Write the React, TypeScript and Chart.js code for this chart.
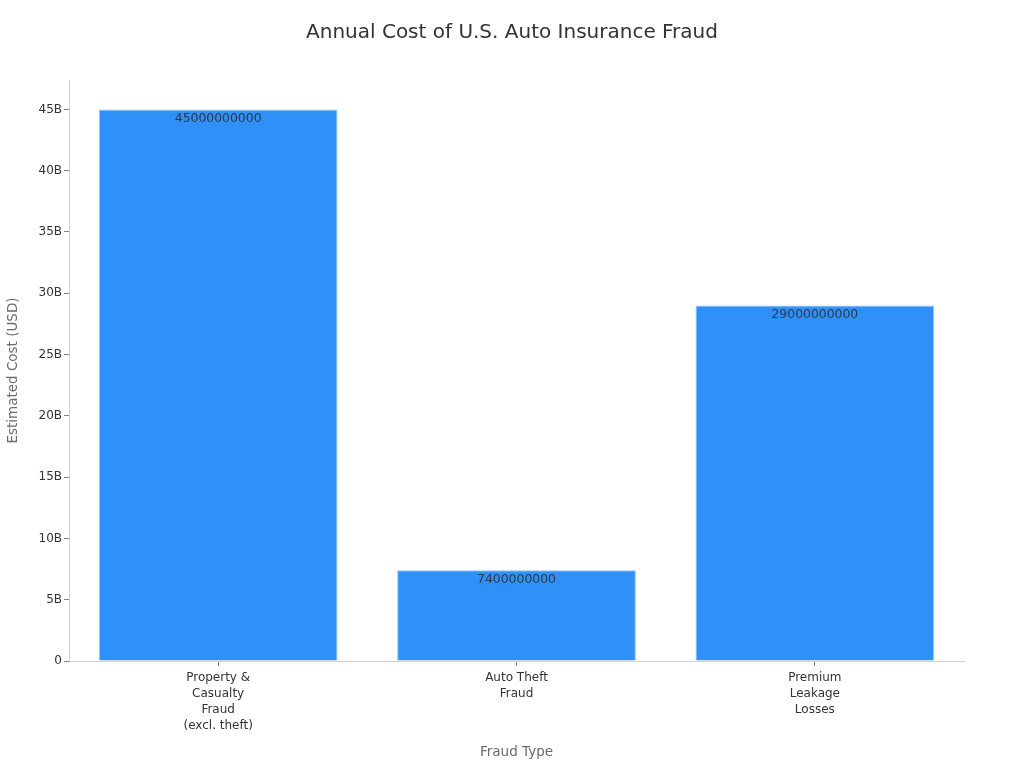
import React, { useEffect, useRef } from "react";
import { Chart, registerables } from "chart.js";

Chart.register(...registerables);

const chartTitle = "Annual Cost of U.S. Auto Insurance Fraud";
const categories: string[][] = [
  ["Property &", "Casualty", "Fraud", "(excl. theft)"],
  ["Auto Theft", "Fraud"],
  ["Premium", "Leakage", "Losses"],
];
const costValues: number[] = [45000000000, 7400000000, 29000000000];
const yTickValues: number[] = [
  0, 5000000000, 10000000000, 15000000000, 20000000000, 25000000000, 30000000000,
  35000000000, 40000000000, 45000000000,
];
const yTickLabels: string[] = ["0", "5B", "10B", "15B", "20B", "25B", "30B", "35B", "40B", "45B"];
const yMax = 47400000000;

const FONT = "'DejaVu Sans', sans-serif";

const valueLabelPlugin = {
  id: "valueLabels",
  afterDatasetsDraw(chart: any) {
    const ctx = chart.ctx;
    const meta = chart.getDatasetMeta(0);
    ctx.save();
    ctx.font = `12.4px ${FONT}`;
    ctx.fillStyle = "rgba(42,52,66,0.95)";
    ctx.textAlign = "center";
    ctx.textBaseline = "middle";
    meta.data.forEach((bar: any, i: number) => {
      const v = chart.data.datasets[0].data[i];
      ctx.fillText(String(v), bar.x, bar.y + 9);
    });
    ctx.restore();
  },
};

const pageTitlePlugin = {
  id: "pageTitle",
  afterDraw(chart: any) {
    const ctx = chart.ctx;
    ctx.save();
    ctx.font = `20px ${FONT}`;
    ctx.fillStyle = "#333333";
    ctx.textAlign = "center";
    ctx.textBaseline = "middle";
    ctx.fillText(chartTitle, chart.width / 2, 33);
    ctx.restore();
  },
};

export default function App() {
  const ref = useRef<HTMLCanvasElement | null>(null);

  useEffect(() => {
    if (!ref.current) return;
    const chart = new Chart(ref.current, {
      type: "bar",
      data: {
        labels: categories as any,
        datasets: [
          {
            data: costValues,
            backgroundColor: "#2F91F7",
            borderColor: "#8CC2FA",
            borderWidth: 1,
            barPercentage: 0.8,
            categoryPercentage: 1.0,
          },
        ],
      },
      options: {
        responsive: false,
        animation: false,
        layout: { padding: { left: 0, right: 60, top: 80, bottom: 0 } },
        plugins: {
          legend: { display: false },
          tooltip: { enabled: false },
          title: { display: false },
        },
        scales: {
          x: {
            grid: {
              display: true,
              drawOnChartArea: false,
              drawTicks: true,
              tickLength: 5,
              offset: false,
              color: "#808080",
            },
            border: { display: true, color: "#d0d0d0", width: 1 },
            ticks: {
              color: "#333333",
              padding: 4,
              maxRotation: 0,
              autoSkip: false,
              font: { family: FONT, size: 12, lineHeight: 1.333 },
            },
            title: {
              display: true,
              text: "Fraud Type",
              color: "#6b6b6b",
              font: { family: FONT, size: 13.5, lineHeight: 1.2 },
              padding: { top: 0, bottom: 7 },
            },
            afterFit(scale: any) {
              scale.height = 107;
            },
          },
          y: {
            min: 0,
            max: yMax,
            grid: {
              display: true,
              drawOnChartArea: false,
              drawTicks: true,
              tickLength: 5,
              color: "#808080",
            },
            border: { display: true, color: "#d0d0d0", width: 1 },
            ticks: {
              color: "#333333",
              padding: 2,
              font: { family: FONT, size: 12 },
              callback: (v: any) => {
                const idx = yTickValues.indexOf(Number(v));
                return idx >= 0 ? yTickLabels[idx] : "";
              },
            },
            afterBuildTicks(scale: any) {
              scale.ticks = yTickValues.map((value) => ({ value }));
            },
            title: {
              display: true,
              text: "Estimated Cost (USD)",
              color: "#6b6b6b",
              font: { family: FONT, size: 13.5, lineHeight: 1.2 },
              padding: { top: 5, bottom: 0 },
            },
            afterFit(scale: any) {
              scale.width = 69;
            },
          },
        },
      },
      plugins: [valueLabelPlugin, pageTitlePlugin],
    });
    return () => chart.destroy();
  }, []);

  return (
    <div style={{ position: "fixed", left: 0, top: 0, width: 1024, height: 768, background: "#ffffff" }}>
      <canvas ref={ref} width={1024} height={768} style={{ display: "block" }} />
    </div>
  );
}
